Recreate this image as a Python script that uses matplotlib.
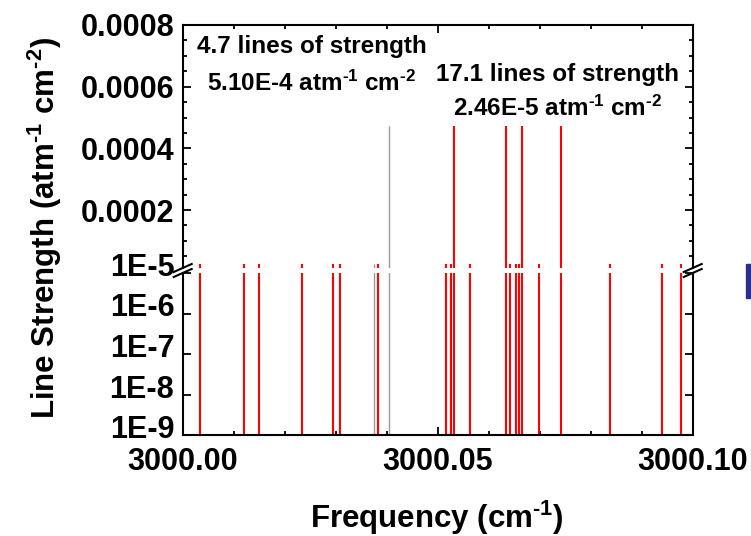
import matplotlib
matplotlib.use('Agg')
import matplotlib.pyplot as plt
import matplotlib.transforms as mtransforms
import numpy as np
from matplotlib.ticker import MultipleLocator, FixedLocator, LogLocator, NullFormatter
from matplotlib.lines import Line2D
from matplotlib.patches import Rectangle

plt.rcParams['font.family'] = ['Liberation Sans', 'DejaVu Sans']
plt.rcParams['font.weight'] = 'bold'
plt.rcParams['mathtext.fontset'] = 'custom'
plt.rcParams['mathtext.rm'] = 'Liberation Sans:bold'
plt.rcParams['mathtext.it'] = 'Liberation Sans:bold'
plt.rcParams['mathtext.bf'] = 'Liberation Sans:bold'
plt.rcParams['mathtext.default'] = 'rm'

# ---------------- data ----------------
red_freq = [3000.00342, 3000.01205, 3000.01488, 3000.02338, 3000.02955, 3000.03080,
            3000.03838, 3000.05160, 3000.05268, 3000.05318, 3000.05625, 3000.06334,
            3000.06416, 3000.06529, 3000.06602, 3000.06650, 3000.06996, 3000.07422,
            3000.08385, 3000.09390, 3000.09762]
red_strength = [2.46e-5, 2.46e-5, 2.46e-5, 2.46e-5, 2.46e-5, 2.46e-5,
                2.46e-5, 2.46e-5, 2.46e-5, 4.72e-4, 2.46e-5, 4.72e-4,
                2.46e-5, 2.46e-5, 2.46e-5, 4.72e-4, 2.46e-5, 4.72e-4,
                2.46e-5, 2.46e-5, 2.46e-5]
gray_freq = [3000.03750, 3000.04049]
gray_strength = [2.46e-5, 4.72e-4]

x_ticks = [3000.00, 3000.05, 3000.10]
x_tick_labels = ["3000.00", "3000.05", "3000.10"]
upper_ticks = [0.0002, 0.0004, 0.0006, 0.0008]
upper_tick_labels = ["0.0002", "0.0004", "0.0006", "0.0008"]
lower_ticks = [1e-9, 1e-8, 1e-7, 1e-6, 1e-5]
lower_tick_labels = ["1E-9", "1E-8", "1E-7", "1E-6", "1E-5"]

SUP1 = r"$^{\text{-1}}$"
SUP2 = r"$^{\text{-2}}$"
annot_left = ["4.7 lines of strength", "5.10E-4 atm" + SUP1 + " cm" + SUP2]
annot_right = ["17.1 lines of strength", "2.46E-5 atm" + SUP1 + " cm" + SUP2]
y_label = "Line Strength (atm" + SUP1 + " cm" + SUP2 + ")"
x_label = "Frequency (cm" + SUP1 + ")"

# ---------------- layout ----------------
W, H = 751, 536
fig = plt.figure(figsize=(W / 100, H / 100), dpi=100)


def rect(x0, y0, x1, y1):
    return [x0 / W, 1 - y1 / H, (x1 - x0) / W, (y1 - y0) / H]


def fx(x):
    return x / W


def fy(y):
    return 1 - y / H


AXL, AXR = 182.7, 692.7
ax_up = fig.add_axes(rect(AXL, 25, AXR, 268))
ax_lo = fig.add_axes(rect(AXL, 273, AXR, 435))

RED = '#ff0000'
GRAY = '#9a9a9a'
LW_RED = 1.5
LW_GRAY = 1.0

up_min, up_max = 1.2e-5, 8e-4
lo_min, lo_max = 1e-9, 1e-5

# upper panel
ax_up.vlines(gray_freq, up_min, gray_strength, colors=GRAY, lw=LW_GRAY)
ax_up.vlines(red_freq, up_min, red_strength, colors=RED, lw=LW_RED)
ax_up.set_ylim(up_min, up_max)
# lower panel
ax_lo.set_yscale('log')
ax_lo.vlines(gray_freq, lo_min, gray_strength, colors=GRAY, lw=LW_GRAY)
ax_lo.vlines(red_freq, lo_min, red_strength, colors=RED, lw=LW_RED)
ax_lo.set_ylim(lo_min, lo_max)

for ax in (ax_up, ax_lo):
    ax.set_xlim(3000.00, 3000.10)
    ax.xaxis.set_major_locator(FixedLocator(x_ticks))
    ax.xaxis.set_minor_locator(MultipleLocator(0.01))
    for s in ax.spines.values():
        s.set_linewidth(1.5)
    ax.tick_params(which='major', direction='in', length=6, width=1.3,
                   labelsize=22, pad=6)
    ax.tick_params(which='minor', direction='in', length=3, width=1.3)

ax_up.spines['bottom'].set_visible(False)
ax_lo.spines['top'].set_visible(False)

ax_up.tick_params(which='both', top=True, right=True, bottom=False,
                  labelbottom=False)
ax_lo.tick_params(which='both', top=False, right=True, bottom=True)
ax_lo.tick_params(axis='x', which='major', pad=9)

ax_up.yaxis.set_major_locator(FixedLocator(upper_ticks))
ax_up.set_yticklabels(upper_tick_labels)
ax_up.yaxis.set_minor_locator(MultipleLocator(0.00005))

ax_lo.yaxis.set_major_locator(FixedLocator(lower_ticks))
ax_lo.set_yticklabels(lower_tick_labels)
ax_lo.yaxis.set_minor_locator(LogLocator(base=10, subs=np.arange(2, 10)))
ax_lo.yaxis.set_minor_formatter(NullFormatter())

ax_lo.set_xticks(x_ticks)
ax_lo.set_xticklabels(x_tick_labels)

# lower-panel tick labels sit a little above their ticks in the reference
shift = mtransforms.ScaledTranslation(0, 8.5 / 100, fig.dpi_scale_trans)
for lab in ax_lo.get_yticklabels():
    lab.set_transform(lab.get_transform() + shift)

# break marks
for xc in (AXL, AXR):
    for dy in (-2.5, 2.5):
        yc = 270.5 + dy
        fig.add_artist(Line2D([fx(xc - 9), fx(xc + 9)], [fy(yc + 4), fy(yc - 4)],
                              color='black', lw=1.5, transform=fig.transFigure,
                              clip_on=False))

# annotations
fig.text(fx(312), fy(47), annot_left[0], ha='center', va='center', fontsize=17.5,
         fontweight='bold')
fig.text(fx(312), fy(83), annot_left[1], ha='center', va='center', fontsize=17.5,
         fontweight='bold')
fig.text(fx(558), fy(74), annot_right[0], ha='center', va='center', fontsize=17.5,
         fontweight='bold')
fig.text(fx(558), fy(108), annot_right[1], ha='center', va='center', fontsize=17.5,
         fontweight='bold')

# axis labels
fig.text(fx(45), fy(228), y_label, rotation=90,
         ha='center', va='center', fontsize=22.5, fontweight='bold')
fig.text(fx(437), fy(518), x_label, ha='center', va='center',
         fontsize=22.5, fontweight='bold')

# stray slide decoration at right edge
fig.add_artist(Rectangle((fx(746), fy(298)), fx(751) - fx(746), fy(264) - fy(298),
                         transform=fig.transFigure, color='#2b2d8f', clip_on=False))

fig.savefig('out.png', dpi=100)
